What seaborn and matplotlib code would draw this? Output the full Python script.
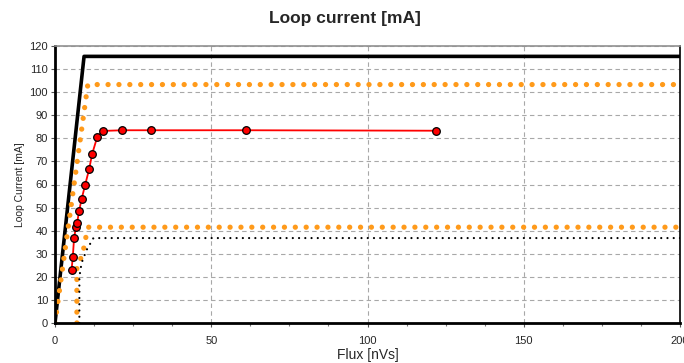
"""Loop current vs flux chart."""
import matplotlib
matplotlib.use("Agg")
import matplotlib.pyplot as plt
from matplotlib.ticker import MultipleLocator
import seaborn as sns

sns.set_theme(style="white")
plt.rcParams["font.family"] = ["Liberation Sans", "DejaVu Sans"]

# ─── data ───
limit_x = [0, 9.3, 200]
limit_y = [0, 115.5, 115.5]

upper_x = [0, 10.5, 200]
upper_y = [0, 103.3, 103.3]

lower_x = [7.0, 7.0, 8.0, 9.0, 10.0, 10.7, 200]
lower_y = [0, 24, 27, 31, 38, 41.5, 41.5]

black_dot_x = [7.8, 7.8, 8.5, 10.1, 12.3, 200]
black_dot_y = [0, 20, 26, 31.6, 36.8, 36.8]

meas_x = [5.3, 5.7, 6.1, 6.7, 7.1, 7.7, 8.5, 9.6, 10.9, 11.9, 13.5, 15.2,
          21.5, 30.7, 61.1, 122]
meas_y = [23, 28.7, 36.7, 41.7, 43.5, 48.5, 53.6, 59.6, 66.5, 73.3, 80.5, 83.2,
          83.5, 83.5, 83.5, 83.3]

fig = plt.figure(figsize=(6.84, 3.63), dpi=100)
ax = fig.add_axes([55 / 684, 40 / 363, 625 / 684, 277 / 363])

common = dict(ax=ax, sort=False, estimator=None, legend=False)

sns.lineplot(x=limit_x, y=limit_y, color="black", linewidth=2.6, **common)
sns.lineplot(x=upper_x, y=upper_y, color="#ff9a1a", linewidth=3.8,
             linestyle=(0, (0.01, 2.05)), dash_capstyle="round", **common)
sns.lineplot(x=lower_x, y=lower_y, color="#ff9a1a", linewidth=3.8,
             linestyle=(0, (0.01, 2.05)), dash_capstyle="round", **common)
sns.lineplot(x=black_dot_x, y=black_dot_y, color="black", linewidth=1.6,
             linestyle=(0, (0.01, 2.8)), dash_capstyle="round", **common)
sns.lineplot(x=meas_x, y=meas_y, color="#ff0000", linewidth=1.3, marker="o",
             markersize=5.5, markerfacecolor="#ff0000", markeredgecolor="black",
             markeredgewidth=0.9, **common)

ax.set_xlim(0, 200)
ax.set_ylim(0, 120)
ax.xaxis.set_major_locator(MultipleLocator(50))
ax.xaxis.set_minor_locator(MultipleLocator(12.5))
ax.yaxis.set_major_locator(MultipleLocator(10))
ax.tick_params(axis="both", which="major", labelsize=8, length=3, width=0.8,
               color="#555555", direction="out", pad=2, left=True, bottom=True)
ax.tick_params(axis="x", which="minor", length=2, width=0.8, color="#777777",
               bottom=True)
ax.tick_params(axis="x", pad=6)

ax.grid(True, which="major", color="#a8a8a8", linestyle=(0, (4, 3)), linewidth=0.8)
ax.set_axisbelow(True)

for side in ["left", "bottom"]:
    ax.spines[side].set_color("black")
    ax.spines[side].set_linewidth(2)
ax.spines["top"].set_color("#909090")
ax.spines["top"].set_linewidth(1.2)
ax.spines["right"].set_color("black")
ax.spines["right"].set_linewidth(1.2)

ax.set_xlabel("Flux [nVs]", fontsize=10, labelpad=2)
ax.set_ylabel("Loop Current [mA]", fontsize=7.5, labelpad=3)
fig.text(345 / 684, 1 - 18 / 363, "Loop current [mA]", ha="center", va="center",
         fontsize=12.5, fontweight="bold")

fig.savefig("out.png", dpi=100)
plt.close()
